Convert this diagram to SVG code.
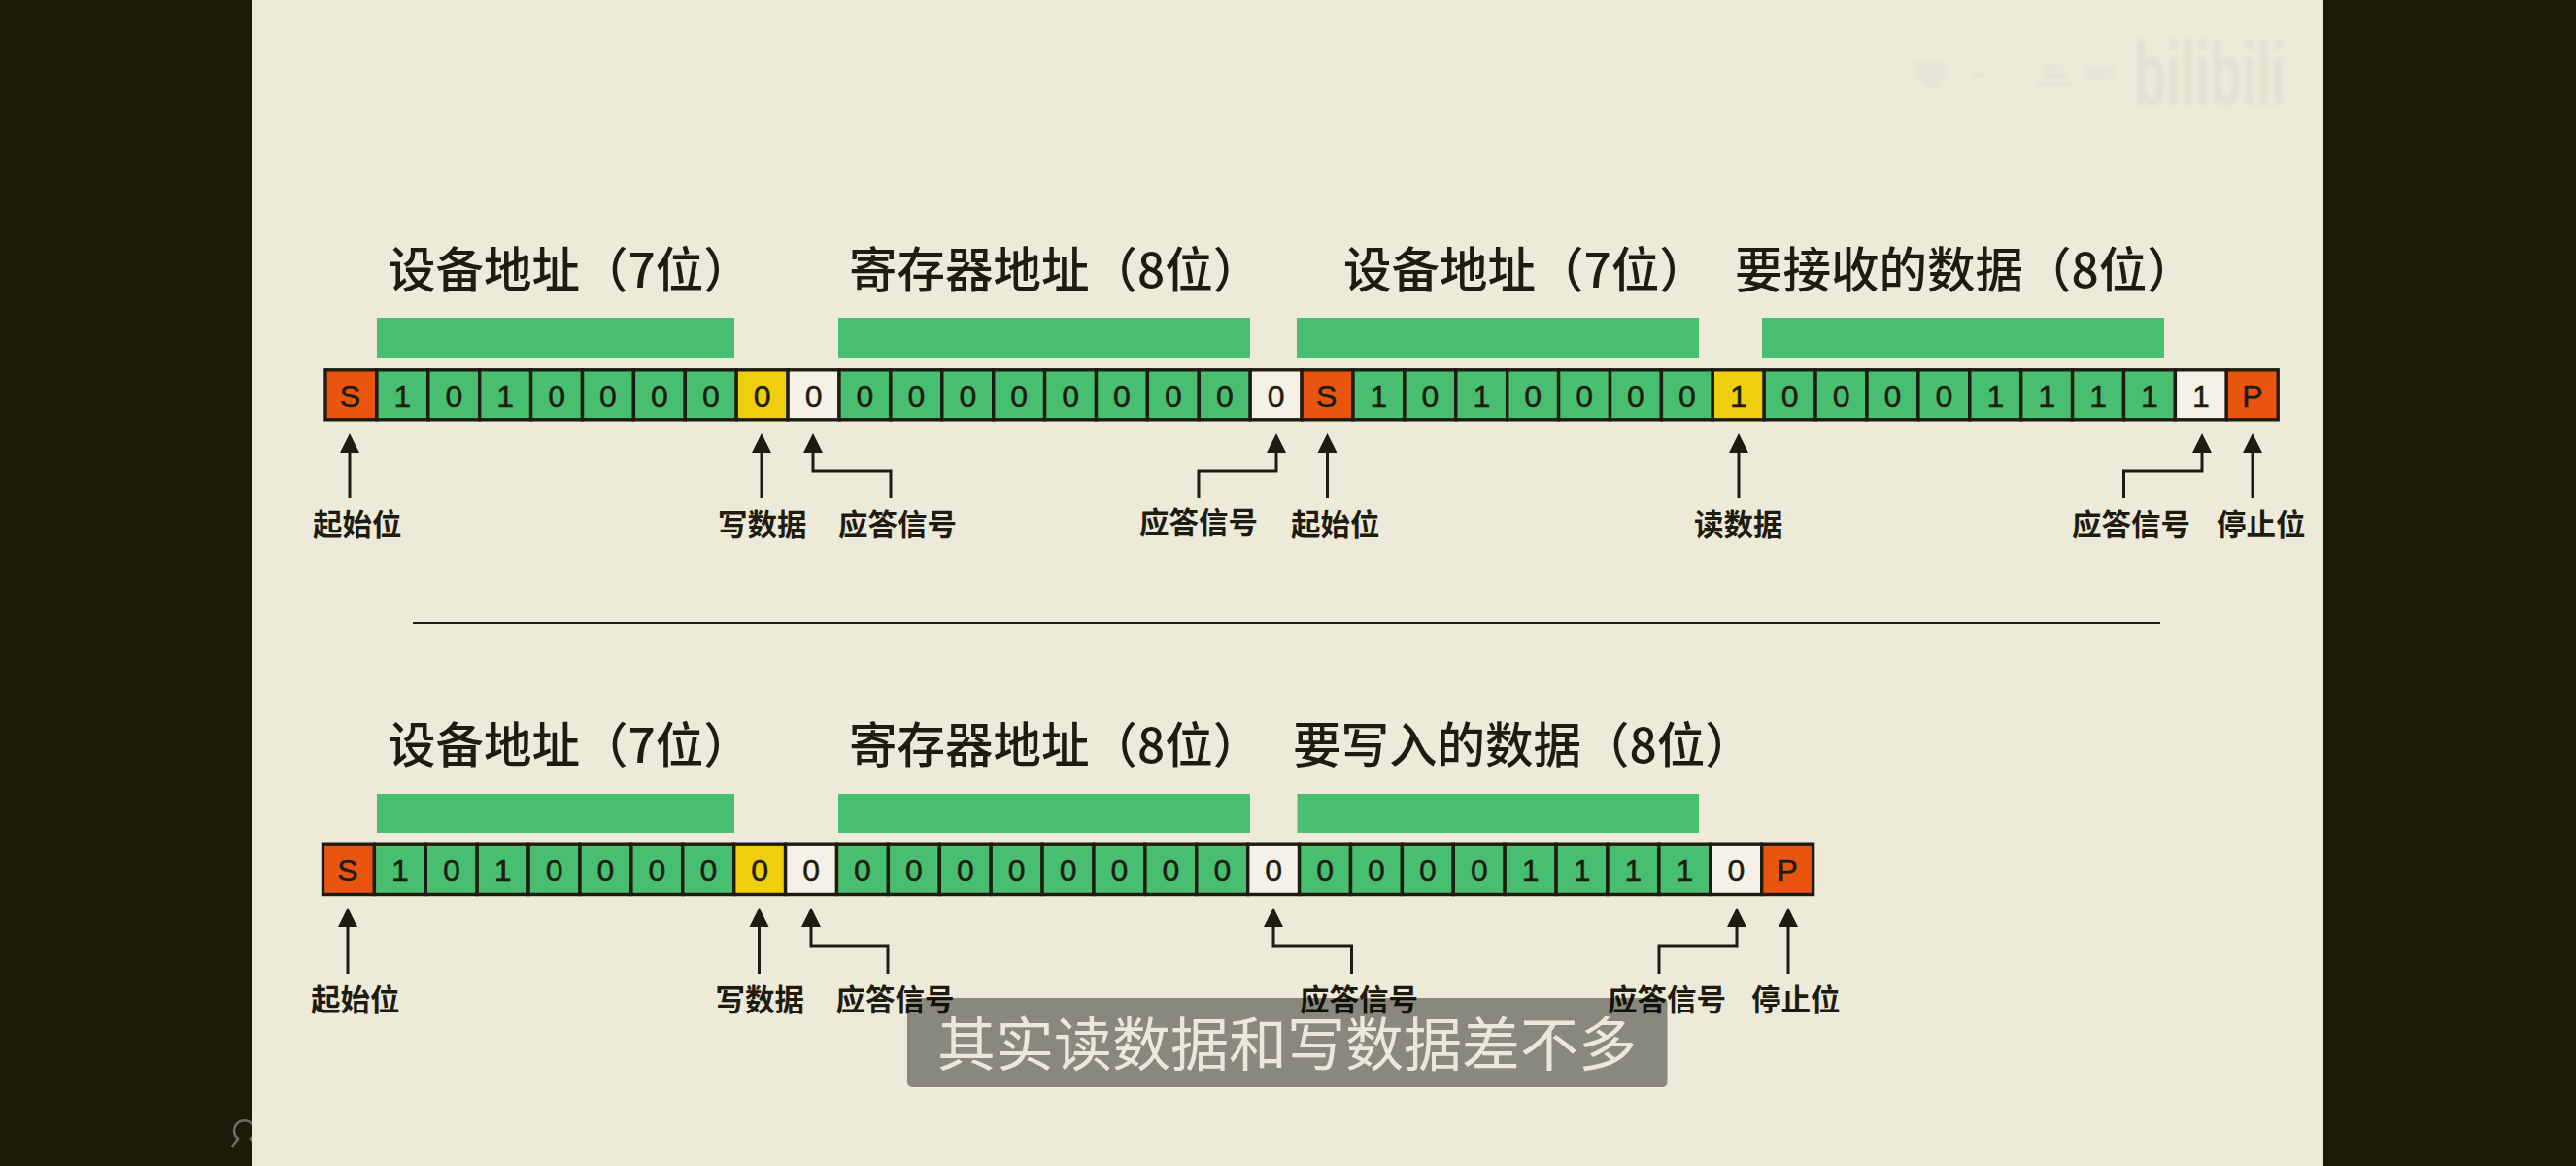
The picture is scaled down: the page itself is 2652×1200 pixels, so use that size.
<svg xmlns="http://www.w3.org/2000/svg" width="2652" height="1200" viewBox="0 0 2652 1200">
<style>
.cjk{font-family:"Noto Sans CJK SC","Noto Sans",sans-serif;fill:#1e1c10}
.h{font-size:49.5px;font-weight:500}
.l{font-size:30.5px;font-weight:700}
.b{font-family:"Liberation Sans",Arial,sans-serif;font-size:32px;fill:#1e1c10;stroke:#1e1c10;stroke-width:.5;text-anchor:middle}
.c{stroke:#1e1c10;stroke-width:3.4}
.g{fill:#48bf70}.o{fill:#e9540f}.y{fill:#efce0c}.w{fill:#f5f1e6}
.bar{fill:#48bf70}
.a{fill:none;stroke:#1e1c10;stroke-width:3;marker-end:url(#ah)}
.wm{fill:#d6d3c4}
</style>
<defs>
<marker id="ah" markerUnits="userSpaceOnUse" markerWidth="21" markerHeight="22" refX="1" refY="11" orient="auto"><path d="M0 1L20 11L0 21Z" fill="#1e1c10"/></marker>
<filter id="blur" x="-10%" y="-10%" width="120%" height="120%"><feGaussianBlur stdDeviation="2"/></filter>
</defs>
<rect width="2652" height="1200" fill="#1c1a08"/>
<path id="corner-icon" d="M239 1180L245 1172A10.500 10.500 0 1 1 258 1172L264 1180" fill="none" stroke="#6e6c60" stroke-width="2.600"/>
<rect id="page" x="259" y="0" width="2133" height="1200" fill="#edeada"/>
<g id="watermark" filter="url(#blur)" opacity=".75">
<rect class="wm" x="1970" y="66" width="32" height="2"/><rect class="wm" x="1972" y="73" width="30" height="2"/><rect class="wm" x="1975" y="80" width="26" height="2"/><rect class="wm" x="1982" y="87" width="18" height="2"/>
<rect class="wm" x="2032" y="76" width="12" height="2"/><rect class="wm" x="2104" y="69" width="20" height="2"/><rect class="wm" x="2104" y="76" width="22" height="3"/><rect class="wm" x="2097" y="85" width="36" height="2"/><rect class="wm" x="2147" y="70" width="28" height="2"/><rect class="wm" x="2147" y="77" width="28" height="2"/>
<text x="2197" y="108" font-family="Liberation Sans,Arial,sans-serif" font-weight="700" font-size="92" fill="#dfdccd" textLength="156" lengthAdjust="spacingAndGlyphs">bilibili</text>
</g>
<g id="headings-top">
<text id="h1" class="cjk h" x="399" y="296">设备地址（7位）</text>
<text id="h2" class="cjk h" x="874" y="296">寄存器地址（8位）</text>
<text id="h3" class="cjk h" x="1383" y="296">设备地址（7位）</text>
<text id="h4" class="cjk h" x="1786" y="296">要接收的数据（8位）</text>
</g>
<g id="bars-top">
<rect class="bar" x="388" y="327" width="368" height="41"/>
<rect class="bar" x="863" y="327" width="424" height="41"/>
<rect class="bar" x="1335" y="327" width="414" height="41"/>
<rect class="bar" x="1814" y="327" width="414" height="41"/>
</g>
<g id="row-top">
<g id="t00" transform="translate(335 380.800)"><rect class="c o" width="52.900" height="51"/><text class="b" x="25.500" y="38.200">S</text></g>
<g id="t01" transform="translate(387.900 380.800)"><rect class="c g" width="52.900" height="51"/><text class="b" x="26.500" y="38.200">1</text></g>
<g id="t02" transform="translate(440.800 380.800)"><rect class="c g" width="52.900" height="51"/><text class="b" x="26.500" y="38.200">0</text></g>
<g id="t03" transform="translate(493.700 380.800)"><rect class="c g" width="52.900" height="51"/><text class="b" x="26.500" y="38.200">1</text></g>
<g id="t04" transform="translate(546.600 380.800)"><rect class="c g" width="52.900" height="51"/><text class="b" x="26.500" y="38.200">0</text></g>
<g id="t05" transform="translate(599.500 380.800)"><rect class="c g" width="52.900" height="51"/><text class="b" x="26.500" y="38.200">0</text></g>
<g id="t06" transform="translate(652.400 380.800)"><rect class="c g" width="52.900" height="51"/><text class="b" x="26.500" y="38.200">0</text></g>
<g id="t07" transform="translate(705.300 380.800)"><rect class="c g" width="52.900" height="51"/><text class="b" x="26.500" y="38.200">0</text></g>
<g id="t08" transform="translate(758.200 380.800)"><rect class="c y" width="52.900" height="51"/><text class="b" x="26.500" y="38.200">0</text></g>
<g id="t09" transform="translate(811.100 380.800)"><rect class="c w" width="52.900" height="51"/><text class="b" x="26.500" y="38.200">0</text></g>
<g id="t10" transform="translate(864 380.800)"><rect class="c g" width="52.900" height="51"/><text class="b" x="26.500" y="38.200">0</text></g>
<g id="t11" transform="translate(916.900 380.800)"><rect class="c g" width="52.900" height="51"/><text class="b" x="26.500" y="38.200">0</text></g>
<g id="t12" transform="translate(969.800 380.800)"><rect class="c g" width="52.900" height="51"/><text class="b" x="26.500" y="38.200">0</text></g>
<g id="t13" transform="translate(1022.700 380.800)"><rect class="c g" width="52.900" height="51"/><text class="b" x="26.500" y="38.200">0</text></g>
<g id="t14" transform="translate(1075.600 380.800)"><rect class="c g" width="52.900" height="51"/><text class="b" x="26.500" y="38.200">0</text></g>
<g id="t15" transform="translate(1128.500 380.800)"><rect class="c g" width="52.900" height="51"/><text class="b" x="26.500" y="38.200">0</text></g>
<g id="t16" transform="translate(1181.400 380.800)"><rect class="c g" width="52.900" height="51"/><text class="b" x="26.500" y="38.200">0</text></g>
<g id="t17" transform="translate(1234.300 380.800)"><rect class="c g" width="52.900" height="51"/><text class="b" x="26.500" y="38.200">0</text></g>
<g id="t18" transform="translate(1287.200 380.800)"><rect class="c w" width="52.900" height="51"/><text class="b" x="26.500" y="38.200">0</text></g>
<g id="t19" transform="translate(1340.100 380.800)"><rect class="c o" width="52.900" height="51"/><text class="b" x="25.500" y="38.200">S</text></g>
<g id="t20" transform="translate(1393 380.800)"><rect class="c g" width="52.900" height="51"/><text class="b" x="26.500" y="38.200">1</text></g>
<g id="t21" transform="translate(1445.900 380.800)"><rect class="c g" width="52.900" height="51"/><text class="b" x="26.500" y="38.200">0</text></g>
<g id="t22" transform="translate(1498.800 380.800)"><rect class="c g" width="52.900" height="51"/><text class="b" x="26.500" y="38.200">1</text></g>
<g id="t23" transform="translate(1551.700 380.800)"><rect class="c g" width="52.900" height="51"/><text class="b" x="26.500" y="38.200">0</text></g>
<g id="t24" transform="translate(1604.600 380.800)"><rect class="c g" width="52.900" height="51"/><text class="b" x="26.500" y="38.200">0</text></g>
<g id="t25" transform="translate(1657.500 380.800)"><rect class="c g" width="52.900" height="51"/><text class="b" x="26.500" y="38.200">0</text></g>
<g id="t26" transform="translate(1710.400 380.800)"><rect class="c g" width="52.900" height="51"/><text class="b" x="26.500" y="38.200">0</text></g>
<g id="t27" transform="translate(1763.300 380.800)"><rect class="c y" width="52.900" height="51"/><text class="b" x="26.500" y="38.200">1</text></g>
<g id="t28" transform="translate(1816.200 380.800)"><rect class="c g" width="52.900" height="51"/><text class="b" x="26.500" y="38.200">0</text></g>
<g id="t29" transform="translate(1869.100 380.800)"><rect class="c g" width="52.900" height="51"/><text class="b" x="26.500" y="38.200">0</text></g>
<g id="t30" transform="translate(1922 380.800)"><rect class="c g" width="52.900" height="51"/><text class="b" x="26.500" y="38.200">0</text></g>
<g id="t31" transform="translate(1974.900 380.800)"><rect class="c g" width="52.900" height="51"/><text class="b" x="26.500" y="38.200">0</text></g>
<g id="t32" transform="translate(2027.800 380.800)"><rect class="c g" width="52.900" height="51"/><text class="b" x="26.500" y="38.200">1</text></g>
<g id="t33" transform="translate(2080.700 380.800)"><rect class="c g" width="52.900" height="51"/><text class="b" x="26.500" y="38.200">1</text></g>
<g id="t34" transform="translate(2133.600 380.800)"><rect class="c g" width="52.900" height="51"/><text class="b" x="26.500" y="38.200">1</text></g>
<g id="t35" transform="translate(2186.500 380.800)"><rect class="c g" width="52.900" height="51"/><text class="b" x="26.500" y="38.200">1</text></g>
<g id="t36" transform="translate(2239.400 380.800)"><rect class="c w" width="52.900" height="51"/><text class="b" x="26.500" y="38.200">1</text></g>
<g id="t37" transform="translate(2292.300 380.800)"><rect class="c o" width="52.900" height="51"/><text class="b" x="26.500" y="38.200">P</text></g>
</g>
<g id="connectors">
<path class="a" d="M360 513V465"/>
<path class="a" d="M784 513V465"/>
<path class="a" d="M917 513V485H837V465"/>
<path class="a" d="M1234 513V485H1314V465"/>
<path class="a" d="M1366.500 513V465"/>
<path class="a" d="M1790 513V465"/>
<path class="a" d="M2186.500 513V485H2267V465"/>
<path class="a" d="M2319 513V465"/>
<path class="a" d="M358 1002V953"/>
<path class="a" d="M781.500 1002V953"/>
<path class="a" d="M914 1002V974H835V953"/>
<path class="a" d="M1391.500 1002V974H1311V953"/>
<path class="a" d="M1708 1002V974H1788V953"/>
<path class="a" d="M1841 1002V953"/>
<path id="separator" d="M425 641H2224" stroke="#1e1c10" stroke-width="2.200" fill="none"/>
</g>
<g id="labels-top">
<text class="cjk l" x="322" y="551">起始位</text>
<text class="cjk l" x="739" y="551">写数据</text>
<text class="cjk l" x="863" y="551">应答信号</text>
<text class="cjk l" x="1173" y="549">应答信号</text>
<text class="cjk l" x="1329" y="551">起始位</text>
<text class="cjk l" x="1744" y="551">读数据</text>
<text class="cjk l" x="2133" y="551">应答信号</text>
<text class="cjk l" x="2282" y="551">停止位</text>
</g>
<g id="headings-bottom">
<text id="h5" class="cjk h" x="399" y="785">设备地址（7位）</text>
<text id="h6" class="cjk h" x="874" y="785">寄存器地址（8位）</text>
<text id="h7" class="cjk h" x="1331" y="785">要写入的数据（8位）</text>
</g>
<g id="bars-bottom">
<rect class="bar" x="388" y="817" width="368" height="40"/>
<rect class="bar" x="863" y="817" width="424" height="40"/>
<rect class="bar" x="1335.500" y="817" width="413.500" height="40"/>
</g>
<g id="row-bottom">
<g id="b00" transform="translate(332.500 869.200)"><rect class="c o" width="52.900" height="51.300"/><text class="b" x="25.500" y="38.200">S</text></g>
<g id="b01" transform="translate(385.400 869.200)"><rect class="c g" width="52.900" height="51.300"/><text class="b" x="26.500" y="38.200">1</text></g>
<g id="b02" transform="translate(438.300 869.200)"><rect class="c g" width="52.900" height="51.300"/><text class="b" x="26.500" y="38.200">0</text></g>
<g id="b03" transform="translate(491.200 869.200)"><rect class="c g" width="52.900" height="51.300"/><text class="b" x="26.500" y="38.200">1</text></g>
<g id="b04" transform="translate(544.100 869.200)"><rect class="c g" width="52.900" height="51.300"/><text class="b" x="26.500" y="38.200">0</text></g>
<g id="b05" transform="translate(597 869.200)"><rect class="c g" width="52.900" height="51.300"/><text class="b" x="26.500" y="38.200">0</text></g>
<g id="b06" transform="translate(649.900 869.200)"><rect class="c g" width="52.900" height="51.300"/><text class="b" x="26.500" y="38.200">0</text></g>
<g id="b07" transform="translate(702.800 869.200)"><rect class="c g" width="52.900" height="51.300"/><text class="b" x="26.500" y="38.200">0</text></g>
<g id="b08" transform="translate(755.700 869.200)"><rect class="c y" width="52.900" height="51.300"/><text class="b" x="26.500" y="38.200">0</text></g>
<g id="b09" transform="translate(808.600 869.200)"><rect class="c w" width="52.900" height="51.300"/><text class="b" x="26.500" y="38.200">0</text></g>
<g id="b10" transform="translate(861.500 869.200)"><rect class="c g" width="52.900" height="51.300"/><text class="b" x="26.500" y="38.200">0</text></g>
<g id="b11" transform="translate(914.400 869.200)"><rect class="c g" width="52.900" height="51.300"/><text class="b" x="26.500" y="38.200">0</text></g>
<g id="b12" transform="translate(967.300 869.200)"><rect class="c g" width="52.900" height="51.300"/><text class="b" x="26.500" y="38.200">0</text></g>
<g id="b13" transform="translate(1020.200 869.200)"><rect class="c g" width="52.900" height="51.300"/><text class="b" x="26.500" y="38.200">0</text></g>
<g id="b14" transform="translate(1073.100 869.200)"><rect class="c g" width="52.900" height="51.300"/><text class="b" x="26.500" y="38.200">0</text></g>
<g id="b15" transform="translate(1126 869.200)"><rect class="c g" width="52.900" height="51.300"/><text class="b" x="26.500" y="38.200">0</text></g>
<g id="b16" transform="translate(1178.900 869.200)"><rect class="c g" width="52.900" height="51.300"/><text class="b" x="26.500" y="38.200">0</text></g>
<g id="b17" transform="translate(1231.800 869.200)"><rect class="c g" width="52.900" height="51.300"/><text class="b" x="26.500" y="38.200">0</text></g>
<g id="b18" transform="translate(1284.700 869.200)"><rect class="c w" width="52.900" height="51.300"/><text class="b" x="26.500" y="38.200">0</text></g>
<g id="b19" transform="translate(1337.600 869.200)"><rect class="c g" width="52.900" height="51.300"/><text class="b" x="26.500" y="38.200">0</text></g>
<g id="b20" transform="translate(1390.500 869.200)"><rect class="c g" width="52.900" height="51.300"/><text class="b" x="26.500" y="38.200">0</text></g>
<g id="b21" transform="translate(1443.400 869.200)"><rect class="c g" width="52.900" height="51.300"/><text class="b" x="26.500" y="38.200">0</text></g>
<g id="b22" transform="translate(1496.300 869.200)"><rect class="c g" width="52.900" height="51.300"/><text class="b" x="26.500" y="38.200">0</text></g>
<g id="b23" transform="translate(1549.200 869.200)"><rect class="c g" width="52.900" height="51.300"/><text class="b" x="26.500" y="38.200">1</text></g>
<g id="b24" transform="translate(1602.100 869.200)"><rect class="c g" width="52.900" height="51.300"/><text class="b" x="26.500" y="38.200">1</text></g>
<g id="b25" transform="translate(1655 869.200)"><rect class="c g" width="52.900" height="51.300"/><text class="b" x="26.500" y="38.200">1</text></g>
<g id="b26" transform="translate(1707.900 869.200)"><rect class="c g" width="52.900" height="51.300"/><text class="b" x="26.500" y="38.200">1</text></g>
<g id="b27" transform="translate(1760.800 869.200)"><rect class="c w" width="52.900" height="51.300"/><text class="b" x="26.500" y="38.200">0</text></g>
<g id="b28" transform="translate(1813.700 869.200)"><rect class="c o" width="52.900" height="51.300"/><text class="b" x="26.500" y="38.200">P</text></g>
</g>
<g id="labels-bottom">
<text class="cjk l" x="320" y="1040">起始位</text>
<text class="cjk l" x="736.500" y="1040">写数据</text>
<text class="cjk l" x="860.500" y="1040">应答信号</text>
<text class="cjk l" x="1338" y="1040">应答信号</text>
<text class="cjk l" x="1655" y="1040">应答信号</text>
<text class="cjk l" x="1803" y="1040">停止位</text>
</g>
<g id="subtitle">
<rect x="934" y="1027" width="782.500" height="92" rx="5" fill="#000" fill-opacity=".42"/>
<text x="965" y="1097" font-family="Noto Sans CJK SC,Noto Sans,sans-serif" font-size="60" fill="#ebe8d9">其实读数据和写数据差不多</text>
</g>
</svg>
